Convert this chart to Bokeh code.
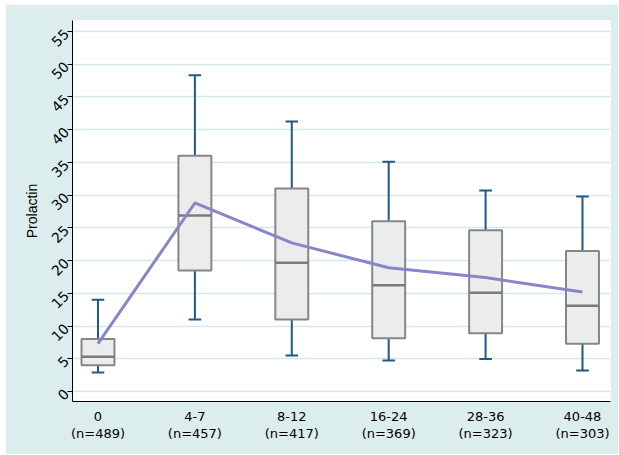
from bokeh.plotting import figure
from bokeh.models import FixedTicker, Range1d, Spacer
from bokeh.layouts import column, row
from bokeh.embed import file_html
from bokeh.resources import INLINE
import math

categories = ["0", "4-7", "8-12", "16-24", "28-36", "40-48"]
counts = [489, 457, 417, 369, 323, 303]
lower = [2.9, 11.0, 5.5, 4.75, 4.95, 3.2]
q1 = [4.0, 18.5, 11.0, 8.15, 8.9, 7.3]
median = [5.3, 26.9, 19.65, 16.25, 15.1, 13.1]
q3 = [8.0, 36.0, 31.0, 26.0, 24.65, 21.45]
upper = [14.0, 48.3, 41.25, 35.1, 30.7, 29.8]
mean = [7.3, 28.8, 22.7, 18.9, 17.4, 15.2]
y_ticks = list(range(0, 60, 5))

xs = list(range(len(categories)))
BG = "#dcedee"
TICKFONT = "DejaVu Sans"
LABELFONT = "Liberation Sans"

p = figure(width=613, height=450, output_backend="svg", toolbar_location=None,
           x_range=Range1d(-0.263, 5.289), y_range=Range1d(-1.53, 56.68),
           min_border_left=67, min_border_top=16, min_border_right=8, min_border_bottom=53)
p.background_fill_color = "white"
p.border_fill_color = BG
p.outline_line_color = None

# grid
p.xgrid.grid_line_color = None
p.ygrid.grid_line_color = "#d3e8ea"
p.ygrid.grid_line_width = 1.5
p.ygrid.ticker = FixedTicker(ticks=y_ticks)

# axes
p.yaxis.ticker = FixedTicker(ticks=y_ticks)
p.yaxis.major_label_orientation = math.pi / 4
p.yaxis.axis_label = "Prolactin"
p.yaxis.axis_label_text_font = LABELFONT
p.yaxis.axis_label_text_font_style = "normal"
p.yaxis.axis_label_text_font_size = "14px"
p.yaxis.axis_label_text_color = "#000000"
p.yaxis.axis_label_standoff = 4
p.yaxis.major_label_text_font = TICKFONT
p.yaxis.major_label_text_font_size = "14px"
p.yaxis.major_label_text_color = "#000000"
p.yaxis.major_tick_out = 5
p.yaxis.major_tick_in = 0
p.yaxis.minor_tick_line_color = None
p.yaxis.axis_line_color = "#000000"
p.yaxis.major_tick_line_color = "#000000"
p.yaxis.major_label_standoff = 1

p.xaxis.ticker = FixedTicker(ticks=xs)
p.xaxis.major_label_overrides = {i: f"{c}\n(n={n})" for i, (c, n) in enumerate(zip(categories, counts))}
p.xaxis.major_tick_line_color = None
p.xaxis.minor_tick_line_color = None
p.xaxis.major_label_text_font = TICKFONT
p.xaxis.major_label_text_font_size = "13px"
p.xaxis.major_label_text_line_height = 1.15
p.xaxis.major_label_text_color = "#000000"
p.xaxis.major_label_standoff = 1
p.xaxis.axis_line_color = "#000000"

WHISK = "#1f5a85"
BOXLINE = "#868686"

# whiskers
p.segment(x0=xs, y0=q3, x1=xs, y1=upper, line_color=WHISK, line_width=2)
p.segment(x0=xs, y0=q1, x1=xs, y1=lower, line_color=WHISK, line_width=2)
cap = 0.065
p.segment(x0=[x - cap for x in xs], y0=upper, x1=[x + cap for x in xs], y1=upper, line_color=WHISK, line_width=2)
p.segment(x0=[x - cap for x in xs], y0=lower, x1=[x + cap for x in xs], y1=lower, line_color=WHISK, line_width=2)

# boxes
bw = 0.34
p.vbar(x=xs, width=bw, bottom=q1, top=q3, fill_color="#ebeded", line_color=BOXLINE, line_width=2)
p.segment(x0=[x - bw / 2 for x in xs], y0=median, x1=[x + bw / 2 for x in xs], y1=median,
          line_color="#7a7a7a", line_width=2.5)

# mean line
p.line(x=xs, y=mean, line_color="#8a84c8", line_width=3)

layout = column(Spacer(height=4), row(Spacer(width=5), p))
open("out.html", "w").write(file_html(layout, INLINE))
